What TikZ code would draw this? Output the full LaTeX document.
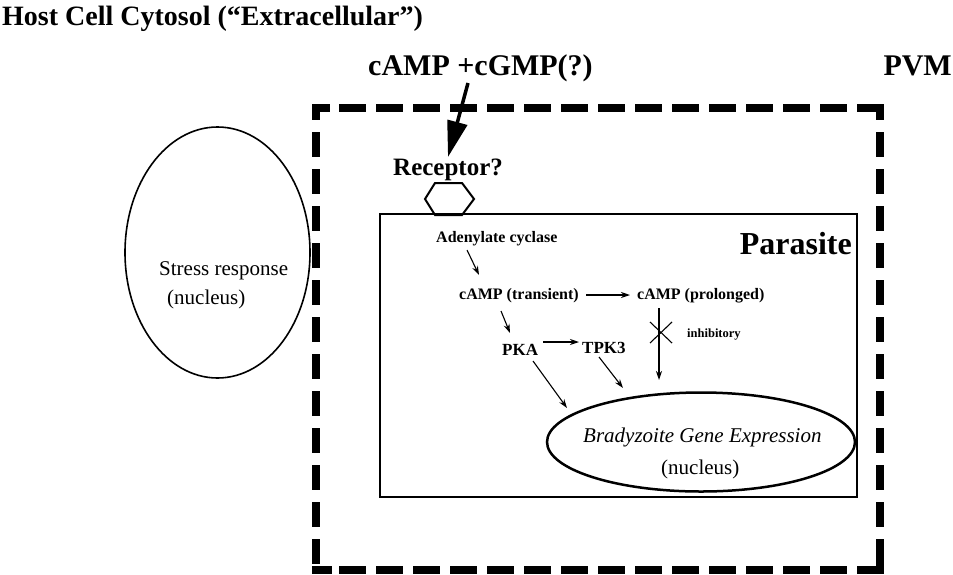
\documentclass[tikz,border=0pt]{standalone}
\usepackage{fontspec}
\setmainfont{Liberation Serif}
\usetikzlibrary{arrows.meta,shapes.geometric}
\begin{document}
\begin{tikzpicture}[x=1pt,y=-1pt,
  lbl/.style={inner sep=0pt, anchor=base west},
  headline/.style={lbl, font=\fontsize{28}{30}\selectfont\bfseries},
  tag/.style={lbl, font=\fontsize{16}{18}\selectfont\bfseries},
  plain/.style={lbl, font=\fontsize{21}{24}\selectfont},
  conn/.style={line width=1.1pt, -{Stealth[length=9pt,width=6pt]}},
  hdash/.style={line width=8pt, dash pattern=on 27pt off 10pt, dash phase=14pt},
  vdash/.style={line width=8pt, dash pattern=on 25pt off 12pt, dash phase=13pt},
  compartment/.style={draw, line width=2pt, inner sep=0pt}]
\useasboundingbox (0,0) rectangle (953,574);

% headings
\node[headline] (host) at (2,25) {Host Cell Cytosol (“Extracellular”)};
\node[headline, font=\fontsize{30}{32}\selectfont\bfseries] (signal) at (368,75) {cAMP +cGMP(?)};
\node[headline, font=\fontsize{30}{32}\selectfont\bfseries, anchor=base east] (pvmlabel) at (952,75) {PVM};

% parasitophorous vacuole membrane: dashed sides and solid corners
\node[minimum width=564pt, minimum height=462pt, inner sep=0pt, outer sep=0pt] (pvm) at (598,339) {};
\draw[hdash] (pvm.north west) -- (pvm.north east);
\draw[hdash] (pvm.south west) -- (pvm.south east);
\draw[vdash] (pvm.north west) -- (pvm.south west);
\draw[vdash] (pvm.north east) -- (pvm.south east);
\fill ([shift={(-4,-4)}]pvm.north west) rectangle ([shift={(14,4)}]pvm.north west);
\fill ([shift={(-4,-4)}]pvm.north west) rectangle ([shift={(4,12)}]pvm.north west);
\fill ([shift={(4,-4)}]pvm.north east) rectangle ([shift={(-10,4)}]pvm.north east);
\fill ([shift={(4,-4)}]pvm.north east) rectangle ([shift={(-4,12)}]pvm.north east);
\fill ([shift={(-4,4)}]pvm.south west) rectangle ([shift={(16,-4)}]pvm.south west);
\fill ([shift={(4,4)}]pvm.south east) rectangle ([shift={(-10,-4)}]pvm.south east);
\fill ([shift={(4,4)}]pvm.south east) rectangle ([shift={(-4,-8)}]pvm.south east);

% host nucleus
\node[ellipse, draw, line width=1.6pt, minimum width=185pt, minimum height=251pt] (host nucleus) at (217.5,252.5) {};
\node[plain] (stress) at (159,275) {Stress response};
\node[plain] (stressnuc) at (167,304) {(nucleus)};

% parasite
\node[compartment, minimum width=477pt, minimum height=283pt] (parasite) at (618.5,355.5) {};
\node[headline, font=\fontsize{32}{34}\selectfont\bfseries, anchor=base east] (parlabel) at (852,254) {Parasite};

% receptor
\node[headline, font=\fontsize{25}{27}\selectfont\bfseries] (rec) at (393,175) {Receptor?};
\draw[line width=2pt] (435,183) -- (462,183) -- (474,199) -- (462,215) -- (435,215) -- (425,199) -- cycle;
\coordinate (sigtail) at (468,83);
\coordinate (sighead) at (448,157);
\draw[line width=3.5pt, -{Triangle[length=36pt,width=20pt]}] (sigtail) -- (sighead);

% signalling cascade
\node[tag] (ac) at (436,242) {Adenylate cyclase};
\node[tag] (ct) at (459,299) {cAMP (transient)};
\node[tag] (cp) at (637,299) {cAMP (prolonged)};
\node[tag, font=\fontsize{17}{19}\selectfont\bfseries] (pka) at (502,355) {PKA};
\node[tag, font=\fontsize{17}{19}\selectfont\bfseries] (tpk) at (582,353) {TPK3};
\node[tag, font=\fontsize{12.5}{14}\selectfont\bfseries] (inh) at (687,337) {inhibitory};

% bradyzoite nucleus
\node[ellipse, draw, line width=2.5pt, minimum width=308pt, minimum height=99pt] (gene) at (701,442) {};
\node[plain, font=\fontsize{21}{24}\selectfont\itshape] (genetext) at (583,442) {Bradyzoite Gene Expression};
\node[plain] (genenuc) at (661,474) {(nucleus)};

% connectors
\draw[conn] ([shift={(31,8)}]ac.base west) -- ([shift={(20,-24)}]ct.base west);
\draw[conn] ([shift={(127,-4)}]ct.base west) -- ([shift={(-7,-4)}]cp.base west);
\draw[conn] ([shift={(42,12)}]ct.base west) -- ([shift={(8,-22)}]pka.base west);
\draw[conn] ([shift={(41,-13)}]pka.base west) -- ([shift={(-3,-11)}]tpk.base west);
\draw[conn] ([shift={(17,4)}]tpk.base west) -- ([shift={(-78,-54)}]gene.center);
\draw[conn] ([shift={(31,6)}]pka.base west) -- ([shift={(-134,-34)}]gene.center);
\draw[conn] ([shift={(22,9)}]cp.base west) -- ([shift={(-42,-62)}]gene.center);

% inhibition mark
\coordinate (xm) at (661,333);
\draw[line width=1.1pt] ([shift={(-11,-11)}]xm) -- ([shift={(11,10)}]xm);
\draw[line width=1.1pt] ([shift={(-11,10)}]xm) -- ([shift={(11,-11)}]xm);
\end{tikzpicture}
\end{document}
